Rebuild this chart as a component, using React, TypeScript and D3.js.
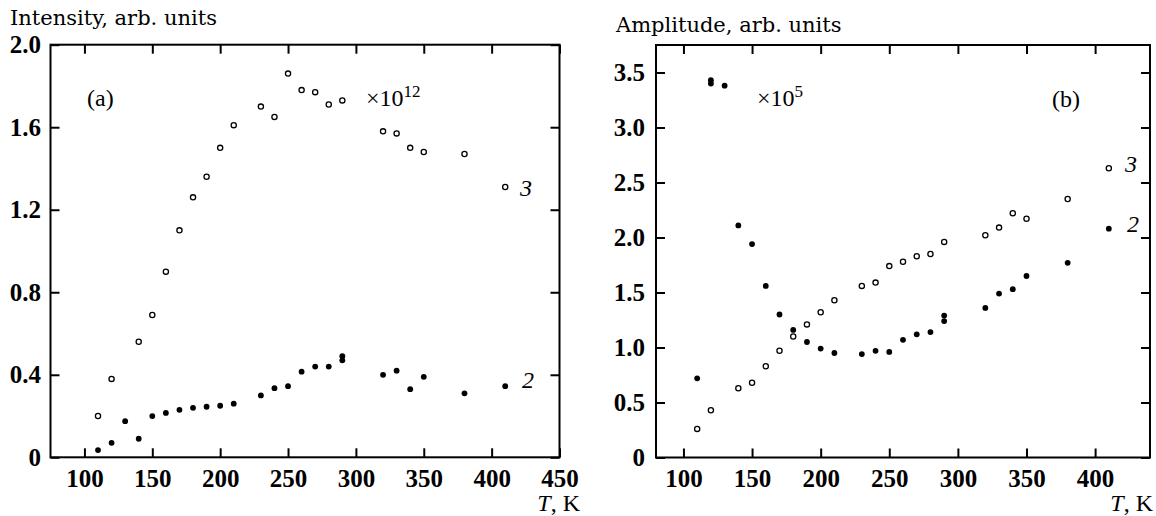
import React, { useEffect, useRef } from "react";
import * as d3 from "d3";

// (a) intensity, x10^12 -- curve 3 open, curve 2 filled
const tempA3 = [110, 120, 140, 150, 160, 170, 180, 190, 200, 210, 230, 240, 250, 260, 270, 280, 290, 320, 330, 340, 350, 380, 410];
const intA3 = [0.2, 0.38, 0.56, 0.69, 0.9, 1.1, 1.26, 1.36, 1.5, 1.61, 1.7, 1.65, 1.86, 1.78, 1.77, 1.71, 1.73, 1.58, 1.57, 1.5, 1.48, 1.47, 1.31];
const tempA2 = [110, 120, 130, 140, 150, 160, 170, 180, 190, 200, 210, 230, 240, 250, 260, 270, 280, 290, 290, 320, 330, 340, 350, 380, 410];
const intA2 = [0.035, 0.07, 0.175, 0.09, 0.2, 0.215, 0.23, 0.24, 0.245, 0.25, 0.26, 0.3, 0.335, 0.345, 0.415, 0.44, 0.44, 0.49, 0.47, 0.4, 0.42, 0.33, 0.39, 0.31, 0.345];

// (b) amplitude, x10^5
const tempB3 = [110, 120, 140, 150, 160, 170, 180, 190, 200, 210, 230, 240, 250, 260, 270, 280, 290, 320, 330, 340, 350, 380, 410];
const ampB3 = [0.26, 0.43, 0.63, 0.68, 0.83, 0.97, 1.1, 1.21, 1.32, 1.43, 1.56, 1.59, 1.74, 1.78, 1.83, 1.85, 1.96, 2.02, 2.09, 2.22, 2.17, 2.35, 2.63];
const tempB2 = [110, 120, 120, 130, 140, 150, 160, 170, 180, 190, 200, 210, 230, 240, 250, 260, 270, 280, 290, 290, 320, 330, 340, 350, 380, 410];
const ampB2 = [0.72, 3.43, 3.4, 3.38, 2.11, 1.94, 1.56, 1.3, 1.16, 1.05, 0.99, 0.95, 0.94, 0.97, 0.96, 1.07, 1.12, 1.14, 1.29, 1.24, 1.36, 1.49, 1.53, 1.65, 1.77, 2.08];

const tickTempA = [100, 150, 200, 250, 300, 350, 400, 450];
const tickIntA = [0, 0.4, 0.8, 1.2, 1.6, 2.0];
const tickTempB = [100, 150, 200, 250, 300, 350, 400];
const tickAmpB = [0, 0.5, 1.0, 1.5, 2.0, 2.5, 3.0, 3.5];

const serif = '"Liberation Serif", "Times New Roman", serif';
const titleFont = '"DejaVu Serif", serif';

const fmt = (v: number) => (v === 0 ? "0" : v.toFixed(1));

const drawPanel = (svg: any, p: any) => {
  const { x, y } = p;
  const [x0, x1] = x.range();
  const [yb, yt] = y.range();
  const g = svg.append("g");

  const style = (sel: any) => {
    sel.select(".domain").remove();
    sel.selectAll(".tick line").attr("stroke", "#000").attr("stroke-width", 2);
    sel.selectAll("text")
      .attr("fill", "#000")
      .attr("font-family", serif)
      .attr("font-size", 25)
      .attr("font-weight", "bold");
  };

  g.append("g")
    .attr("transform", `translate(0,${yb})`)
    .call(d3.axisBottom(x).tickValues(p.xTicks).tickSize(-9).tickPadding(12).tickFormat(d3.format("d")))
    .call(style);
  g.append("g")
    .attr("transform", `translate(0,${yt})`)
    .call(d3.axisTop(x).tickValues(p.xTicks).tickSize(-9).tickFormat(() => ""))
    .call(style);
  g.append("g")
    .attr("transform", `translate(${x0},0)`)
    .call(d3.axisLeft(y).tickValues(p.yTicks).tickSize(-9).tickPadding(p.yPad).tickFormat(fmt))
    .call(style);
  g.append("g")
    .attr("transform", `translate(${x1},0)`)
    .call(d3.axisRight(y).tickValues(p.yTicks).tickSize(-9).tickFormat(() => ""))
    .call(style);

  g.append("rect")
    .attr("x", x0).attr("y", yt)
    .attr("width", x1 - x0).attr("height", yb - yt)
    .attr("fill", "none").attr("stroke", "#000").attr("stroke-width", 2);

  g.append("g").selectAll("circle")
    .data(p.open)
    .join("circle")
    .attr("cx", (d: any) => x(d[0]))
    .attr("cy", (d: any) => y(d[1]))
    .attr("r", 2.6)
    .attr("fill", "#fff").attr("stroke", "#000").attr("stroke-width", 1.3);

  g.append("g").selectAll("circle")
    .data(p.filled)
    .join("circle")
    .attr("cx", (d: any) => x(d[0]))
    .attr("cy", (d: any) => y(d[1]))
    .attr("r", 2.9)
    .attr("fill", "#000");

  g.append("text")
    .attr("x", p.title[1]).attr("y", p.title[2])
    .attr("font-family", titleFont).attr("font-size", 21)
    .text(p.title[0]);

  // axis name, bottom right under the frame
  const tk = g.append("text")
    .attr("x", p.tEnd).attr("y", 511)
    .attr("text-anchor", "end")
    .attr("font-family", serif).attr("font-size", 24);
  tk.append("tspan").attr("font-style", "italic").text("T");
  tk.append("tspan").text(", K");

  g.append("text")
    .attr("x", p.tag[1]).attr("y", p.tag[2])
    .attr("font-family", serif).attr("font-size", 24)
    .text(p.tag[0]);

  const mul = g.append("text")
    .attr("x", p.mult[1]).attr("y", p.mult[2])
    .attr("font-family", serif).attr("font-size", 24);
  mul.append("tspan").text("\u00d710");
  mul.append("tspan").attr("font-size", 17).attr("dy", -9).text(p.mult[0]);

  p.curves.forEach((c: any) => {
    g.append("text")
      .attr("x", c[1]).attr("y", c[2])
      .attr("font-family", serif).attr("font-size", 24).attr("font-style", "italic")
      .text(c[0]);
  });
};

const App = () => {
  const ref = useRef<SVGSVGElement>(null);

  useEffect(() => {
    const svg = d3.select(ref.current);
    svg.selectAll("*").remove();

    drawPanel(svg, {
      x: d3.scaleLinear().domain([75, 450]).range([50.5, 559.5]),
      y: d3.scaleLinear().domain([0, 2]).range([457.3, 44.7]),
      xTicks: tickTempA,
      yTicks: tickIntA,
      yPad: 9.5,
      open: tempA3.map((t, i) => [t, intA3[i]]),
      filled: tempA2.map((t, i) => [t, intA2[i]]),
      title: ["Intensity, arb. units", 10, 25],
      tag: ["(a)", 87, 106],
      mult: ["12", 366, 106],
      curves: [["3", 520, 196], ["2", 522, 388]],
      tEnd: 580,
    });

    drawPanel(svg, {
      x: d3.scaleLinear().domain([80, 440]).range([656, 1150]),
      y: d3.scaleLinear().domain([0, 3.75]).range([457.5, 45]),
      xTicks: tickTempB,
      yTicks: tickAmpB,
      yPad: 11,
      open: tempB3.map((t, i) => [t, ampB3[i]]),
      filled: tempB2.map((t, i) => [t, ampB2[i]]),
      title: ["Amplitude, arb. units", 616, 32],
      tag: ["(b)", 1052, 107],
      mult: ["5", 757, 106],
      curves: [["3", 1125, 172], ["2", 1127, 232]],
      tEnd: 1153,
    });
  });

  return (
    <svg
      ref={ref}
      width={1156}
      height={516}
      style={{ position: "absolute", left: 0, top: 0, background: "#fff" }}
    />
  );
};

export default App;
